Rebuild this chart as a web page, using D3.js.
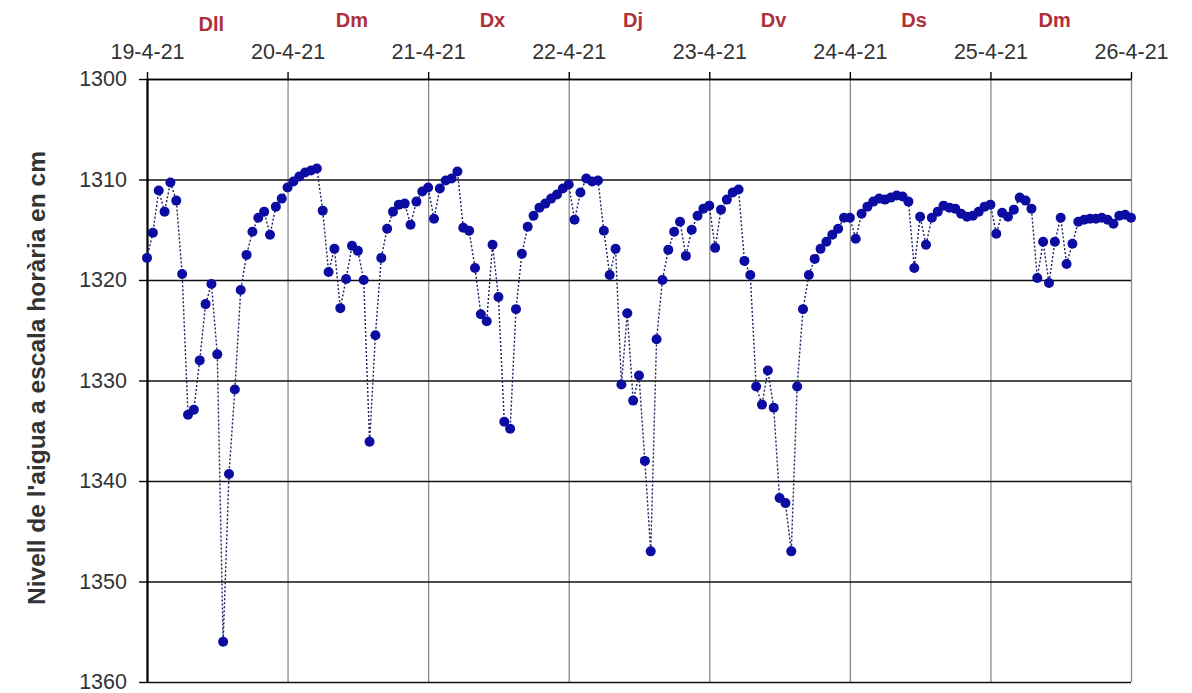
<!DOCTYPE html>
<html>
<head>
<meta charset="UTF-8" />
<script src="https://cdn.jsdelivr.net/npm/d3@7"></script>
<title>Nivell de l'aigua</title>
<style>
    body { margin: 0; background: white; }
    svg text { font-family: "Liberation Sans", Arial, sans-serif; }
</style>
</head>
<body>
<div id="chart"></div>
<script>
// day ticks along the top
const dateLabels = ["19-4-21", "20-4-21", "21-4-21", "22-4-21", "23-4-21", "24-4-21", "25-4-21", "26-4-21"];
const dayNames = ["Dll", "Dm", "Dx", "Dj", "Dv", "Ds", "Dm"];
const yTicks = [1300, 1310, 1320, 1330, 1340, 1350, 1360];

// hourly level readings, one array per day (00h..23h), plus the last reading at 26-4 00h
const day1 = [1317.8, 1315.3, 1311.1, 1313.2, 1310.3, 1312.1, 1319.4, 1333.4, 1332.9, 1328.0, 1322.4, 1320.4,
              1327.4, 1356.0, 1339.3, 1330.9, 1321.0, 1317.5, 1315.2, 1313.8, 1313.2, 1315.5, 1312.7, 1311.9];
const day2 = [1310.8, 1310.2, 1309.7, 1309.3, 1309.1, 1308.9, 1313.1, 1319.2, 1316.9, 1322.8, 1319.9, 1316.6,
              1317.1, 1320.0, 1336.1, 1325.5, 1317.8, 1314.9, 1313.2, 1312.5, 1312.4, 1314.5, 1312.2, 1311.2];
const day3 = [1310.8, 1313.9, 1310.9, 1310.1, 1309.9, 1309.2, 1314.8, 1315.1, 1318.8, 1323.4, 1324.1, 1316.5,
              1321.7, 1334.1, 1334.8, 1322.9, 1317.4, 1314.7, 1313.6, 1312.8, 1312.4, 1311.9, 1311.5, 1310.9];
const day4 = [1310.5, 1314.0, 1311.3, 1309.9, 1310.2, 1310.1, 1315.1, 1319.5, 1316.9, 1330.4, 1323.3, 1332.0,
              1329.5, 1338.0, 1347.0, 1325.9, 1320.0, 1317.0, 1315.2, 1314.2, 1317.6, 1315.0, 1313.6, 1312.9];
const day5 = [1312.6, 1316.8, 1313.0, 1312.0, 1311.3, 1311.0, 1318.1, 1319.5, 1330.6, 1332.4, 1329.0, 1332.7,
              1341.7, 1342.2, 1347.0, 1330.6, 1322.9, 1319.5, 1317.9, 1316.9, 1316.2, 1315.5, 1314.9, 1313.8];
const day6 = [1313.8, 1315.9, 1313.4, 1312.7, 1312.2, 1311.9, 1312.0, 1311.8, 1311.6, 1311.7, 1312.2, 1318.8,
              1313.7, 1316.5, 1313.8, 1313.2, 1312.6, 1312.8, 1312.9, 1313.4, 1313.7, 1313.6, 1313.2, 1312.7];
const day7 = [1312.5, 1315.4, 1313.3, 1313.7, 1313.0, 1311.8, 1312.1, 1312.9, 1319.8, 1316.2, 1320.3, 1316.2,
              1313.8, 1318.4, 1316.4, 1314.2, 1314.0, 1313.9, 1313.9, 1313.8, 1314.0, 1314.4, 1313.6, 1313.5];
const lastReading = [1313.8];

const levels = [].concat(day1, day2, day3, day4, day5, day6, day7, lastReading);

const w = 1192, h = 693;
const plotLeft = 147, plotRight = 1131, plotTop = 79, plotBottom = 682;

const start = new Date(2021, 3, 19);
const end = new Date(2021, 3, 26);
const days = d3.timeDay.range(start, d3.timeDay.offset(end, 1));

const xScale = d3.scaleTime().domain([start, end]).range([plotLeft, plotRight]);
const yScale = d3.scaleLinear().domain([1300, 1360]).range([plotTop, plotBottom]);

const svg = d3.select("#chart").append("svg")
    .attr("width", w)
    .attr("height", h)
    .style("background", "white");

// vertical grid (grey), one per day
svg.append("g")
    .attr("transform", "translate(0," + plotTop + ")")
    .call(d3.axisBottom(xScale).tickValues(days).tickSize(plotBottom - plotTop).tickFormat(""))
    .call(g => g.select(".domain").remove())
    .call(g => g.selectAll("line").attr("stroke", "#8a8a8a").attr("stroke-width", 1.3));

// horizontal grid (black)
svg.append("g")
    .attr("transform", "translate(" + plotLeft + ",0)")
    .call(d3.axisRight(yScale).tickValues(yTicks).tickSize(plotRight - plotLeft).tickFormat(""))
    .call(g => g.select(".domain").remove())
    .call(g => g.selectAll("line").attr("stroke", "#111").attr("stroke-width", 1.4));

// left axis
svg.append("g")
    .attr("transform", "translate(" + plotLeft + ",0)")
    .call(d3.axisLeft(yScale).tickValues(yTicks).tickSize(8).tickSizeOuter(0).tickPadding(12).tickFormat(d3.format("d")))
    .call(g => g.select(".domain").attr("stroke", "#000").attr("stroke-width", 2.2))
    .call(g => g.selectAll("line").attr("stroke", "#000").attr("stroke-width", 1.4))
    .call(g => g.selectAll("text").attr("font-size", 21.5).attr("fill", "#333")
        .attr("font-family", "'Liberation Sans', Arial, sans-serif"));

// top axis with dates
svg.append("g")
    .attr("transform", "translate(0," + plotTop + ")")
    .call(d3.axisTop(xScale).tickValues(days).tickSize(7).tickSizeOuter(0).tickPadding(13)
        .tickFormat((d, i) => dateLabels[i]))
    .call(g => g.select(".domain").attr("stroke", "#000").attr("stroke-width", 1.4))
    .call(g => g.selectAll("line").attr("stroke", "#000").attr("stroke-width", 1.4))
    .call(g => g.selectAll("text").attr("font-size", 21.5).attr("fill", "#333")
        .attr("font-family", "'Liberation Sans', Arial, sans-serif"));

// weekday names
svg.append("g").selectAll("text")
    .data(dayNames)
    .enter()
    .append("text")
    .attr("x", (d, i) => xScale(d3.timeHour.offset(days[i], 12)) - 6)
    .attr("y", (d, i) => i === 0 ? 31 : 27)
    .attr("text-anchor", "middle")
    .attr("font-size", 20)
    .attr("font-weight", "bold")
    .attr("fill", "#b0303a")
    .text(d => d);

// y title
svg.append("text")
    .attr("transform", "translate(45,378) rotate(-90)")
    .attr("text-anchor", "middle")
    .attr("font-size", 24.5)
    .attr("font-weight", "bold")
    .attr("fill", "#333")
    .text("Nivell  de l'aigua a escala horària en cm");

const hourAt = i => d3.timeHour.offset(start, i);

const line = d3.line()
    .x((d, i) => xScale(hourAt(i)))
    .y(d => yScale(d));

svg.append("path")
    .datum(levels)
    .attr("fill", "none")
    .attr("stroke", "#1e1e62")
    .attr("stroke-width", 1.4)
    .attr("stroke-dasharray", "2,2")
    .attr("d", line);

svg.append("g").selectAll("circle")
    .data(levels)
    .enter()
    .append("circle")
    .attr("cx", (d, i) => xScale(hourAt(i)))
    .attr("cy", d => yScale(d))
    .attr("r", 5)
    .attr("fill", "#0c0ca2");
</script>
</body>
</html>
